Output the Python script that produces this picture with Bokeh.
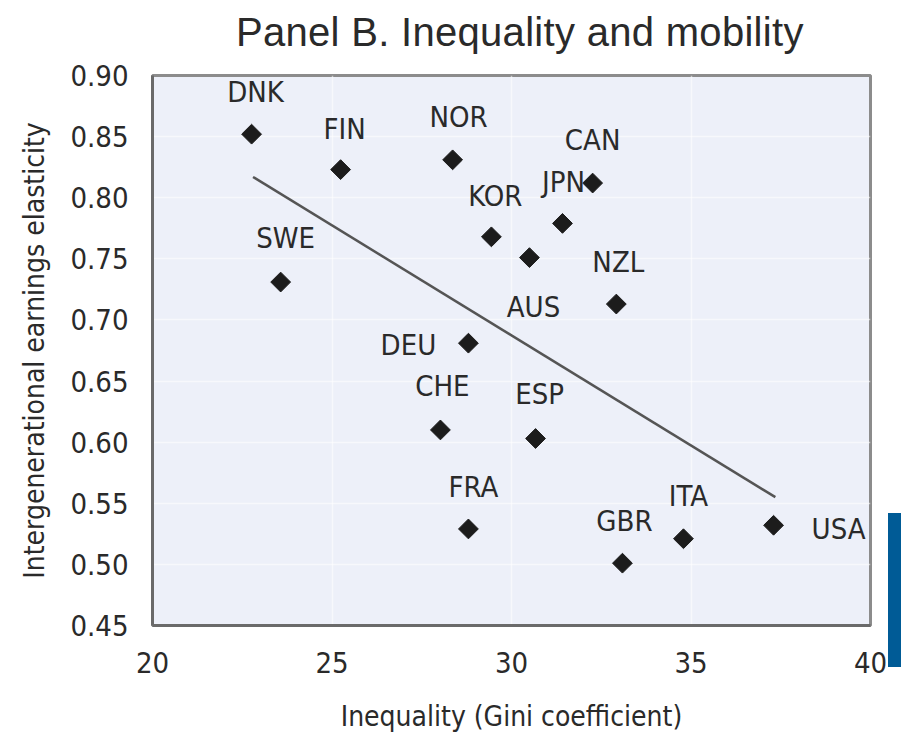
from bokeh.plotting import figure
from bokeh.models import Range1d, FixedTicker, ColumnDataSource, NumeralTickFormatter, Div
from bokeh.layouts import row, column
from bokeh.embed import file_html
from bokeh.resources import INLINE
from bokeh.core.properties import value

# ---- data ----
title_text = "Panel B. Inequality and mobility"
countries = ["DNK", "FIN", "NOR", "SWE", "KOR", "CAN", "JPN", "AUS",
             "NZL", "DEU", "CHE", "ESP", "FRA", "GBR", "ITA", "USA"]
gini = [22.76, 25.24, 28.36, 23.57, 29.44, 32.26, 31.42, 30.50,
        32.92, 28.80, 28.02, 30.67, 28.80, 33.09, 34.79, 37.30]
elasticity = [0.852, 0.823, 0.831, 0.731, 0.768, 0.812, 0.779, 0.751,
              0.713, 0.681, 0.610, 0.603, 0.529, 0.501, 0.521, 0.532]
trend_x = [22.8, 37.35]
trend_y = [0.817, 0.555]
x_ticks = [20, 25, 30, 35, 40]
y_ticks = [0.45, 0.50, 0.55, 0.60, 0.65, 0.70, 0.75, 0.80, 0.85, 0.90]

# ---- label placement (screen pixel offsets, styling only) ----
label_dx = [4, 4, 6, 5, 4, 0, 1, 4, 2, -60, 2, 4, 5, 2, 5, 65]
label_dy = [-42, -41, -43, -44, -41, -43, -41, 49, -42, 2, -44, -45, -42, -42, -43, 4]

NARROW = "DejaVu Sans Condensed"
TXT = "#2a2a2a"

p = figure(frame_width=718, frame_height=550, width=888, height=673,
           x_range=Range1d(20, 40), y_range=Range1d(0.45, 0.90),
           output_backend="svg", toolbar_location=None,
           min_border_left=152, min_border_right=18,
           min_border_top=20, min_border_bottom=103)

p.background_fill_color = "#edf0f9"
p.border_fill_color = "white"
p.outline_line_color = "#8c8c8c"
p.outline_line_width = 3

p.xaxis.ticker = FixedTicker(ticks=x_ticks)
p.yaxis.ticker = FixedTicker(ticks=y_ticks)
p.yaxis.formatter = NumeralTickFormatter(format="0.00")

for ax in (p.xaxis, p.yaxis):
    ax.major_tick_in = 0
    ax.major_tick_out = 0
    ax.minor_tick_in = 0
    ax.minor_tick_out = 0
    ax.axis_line_color = "#6a6a6a"
    ax.axis_line_width = 3
    ax.major_label_text_font = NARROW
    ax.major_label_text_font_size = "29px"
    ax.major_label_text_color = TXT
    ax.axis_label_text_font = NARROW
    ax.axis_label_text_font_size = "28px"
    ax.axis_label_text_font_style = "normal"
    ax.axis_label_text_color = TXT

p.xaxis.axis_label = "Inequality (Gini coefficient)"
p.yaxis.axis_label = "Intergenerational earnings elasticity"
p.xaxis.major_label_standoff = 26
p.xaxis.axis_label_standoff = 24
p.yaxis.major_label_standoff = 24
p.yaxis.axis_label_standoff = 16

p.grid.grid_line_color = "white"
p.grid.grid_line_width = 1.5
p.grid.grid_line_alpha = 0.55

# trend line
p.line(trend_x, trend_y, line_color="#555555", line_width=2.5)

src = ColumnDataSource(dict(x=gini, y=elasticity, name=countries,
                            dx=label_dx, dy=label_dy))
p.scatter("x", "y", source=src, marker="square", angle=0.7853981634,
          size=14, fill_color="#1c1c1c", line_color="#1c1c1c")
p.text("x", "y", text="name", source=src, x_offset="dx", y_offset="dy",
       text_font=value(NARROW), text_font_size="29px", text_color=TXT,
       text_align="center", text_baseline="middle")

# title as a block above the chart
title = Div(text=title_text, width=630, height=43, margin=(12, 0, 0, 236),
            styles={"font-family": "Liberation Sans", "font-size": "40px",
                    "line-height": "1", "color": TXT, "white-space": "nowrap",
                    "letter-spacing": "0.3px"})

# decorative blue bar at the right edge (from the source page)
bar = Div(text="", width=13, height=154, margin=(458, 0, 0, 0),
          styles={"background-color": "#005b96"})

layout = column(title, row(p, bar), spacing=0)
open("out.html", "w").write(file_html(layout, INLINE))
